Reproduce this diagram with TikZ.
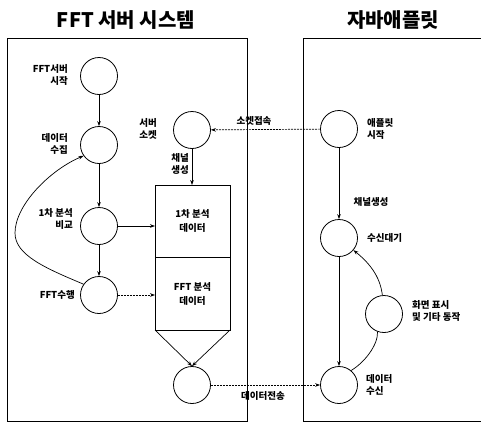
\documentclass[tikz,border=0pt]{standalone}
\usepackage{fontspec}
\setmainfont{Noto Sans CJK KR}
\usetikzlibrary{arrows.meta}
\begin{document}
\begin{tikzpicture}[x=1pt,y=-1pt,
  state/.style={draw, circle, minimum size=37pt, inner sep=0pt, line width=0.8pt},
  databox/.style={draw, minimum width=75pt, inner sep=0pt, outer sep=0pt, line width=0.8pt, align=center, font=\bfseries\fontsize{9.5}{14}\selectfont},
  lbl/.style={inner sep=0pt, font=\bfseries\fontsize{9.5}{12.5}\selectfont},
  ttl/.style={inner sep=0pt, font=\bfseries\fontsize{20}{24}\selectfont},
  arr/.style={-{Stealth[length=5pt,width=3.6pt]}, line width=0.7pt},
  dsh/.style={arr, dash pattern=on 2pt off 1pt},
  frame/.style={line width=0.9pt}]
\useasboundingbox (0,0) rectangle (481,423);
% titles
\node[ttl] (t1) at (126,20) {FFT 서버 시스템};
\node[ttl] (t2) at (393,20) {자바애플릿};
% frames
\draw[frame] (7,38) rectangle (247,421);
\draw[frame] (482,38) -- (303,38) -- (303,421) -- (482,421);
% states
\node[state] (start) at (99,76) {};
\node[state] (collect) at (99,145) {};
\node[state] (compare) at (99,226) {};
\node[state] (fft) at (99,295) {};
\node[state] (sock) at (192,130) {};
\node[state] (out) at (192,385) {};
\node[state] (applet) at (339,129) {};
\node[state] (wait) at (339,238) {};
\node[state] (disp) at (384,314) {};
\node[state] (recv) at (339,385) {};
% data boxes
\node[databox, minimum height=72pt, anchor=north] (d1) at (192.5,185) {1차 분석\\데이터};
\node[databox, minimum height=73pt, anchor=north] (d2) at (d1.south) {FFT 분석\\데이터};
% labels
\node[lbl, anchor=east, align=right] (lstart) at (68,75) {FFT서버\\시작};
\node[lbl, anchor=east, align=right] (lcollect) at (68,144) {데이터\\수집};
\node[lbl, anchor=east, align=right] (lcompare) at (73,219) {1차 분석\\비교};
\node[lbl, anchor=east] (lfft) at (75,295) {FFT수행};
\node[lbl, anchor=east, align=right] (lsock) at (157,129) {서버\\소켓};
\node[lbl, anchor=east, align=center] (lchan1) at (189,164) {채널\\생성};
\node[lbl] (lsocket) at (254,121) {소켓접속};
\node[lbl, anchor=west, align=left] (lapplet) at (367,129) {애플릿\\시작};
\node[lbl] (lchan2) at (371,202) {채널생성};
\node[lbl, anchor=west] (lwait) at (367,238) {수신대기};
\node[lbl, anchor=west, align=left] (ldisp) at (412,311) {화면 표시\\및 기타 동작};
\node[lbl, anchor=west, align=left] (lrecv) at (366,385) {데이터\\수신};
\node[lbl] (lsend) at (263,396) {데이터전송};
% connectors left
\draw[arr] (start) -- (collect);
\draw[arr] (collect) -- (compare);
\draw[arr] (compare) -- (fft);
\draw[arr] (compare.east) -- (compare -| d1.west);
\draw[dsh] (fft.east) -- (fft -| d2.west);
\draw[arr] (fft.145) .. controls (45,268) and (15,255) .. (15,233)
  .. controls (15,205) and (50,170) .. (collect.215);
\draw[arr] (sock) -- (sock |- d1.north);
\draw[arr] (d2.south west) -- (out.north);
\draw[arr] (d2.south east) -- (out.north);
% connectors across / right
\draw[dsh] (applet) -- (sock);
\draw[dsh] (out.east) -- (recv.west);
\draw[arr] (applet) -- (wait);
\draw[arr] (wait) -- (recv);
\draw[line width=0.7pt] (recv.50) .. controls (365,362) and (378,345) .. (disp.250);
\draw[arr] (disp.95) .. controls (380,275) and (368,262) .. (wait.-40);
\end{tikzpicture}
\end{document}
